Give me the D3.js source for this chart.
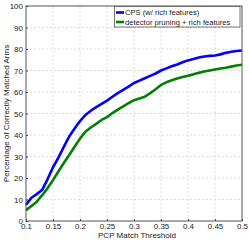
<!DOCTYPE html>
<html><head><meta charset="utf-8">
<script src="https://cdn.jsdelivr.net/npm/d3@7"></script>
<style>body{margin:0;background:#fff}svg{display:block}text{font-family:"Liberation Sans",Arial,sans-serif;fill:#222}</style>
</head><body>
<script>
const thresholds = d3.range(41).map(i => +(0.1 + i*0.01).toFixed(2));
const cpsValues = [7.5,10.8,12.5,14.5,19.5,25,29.5,34.5,39.3,43,46.5,49.3,51.3,53,54.5,56,57.8,59.5,61,62.5,64.2,65.3,66.4,67.5,68.6,70,71,72,72.8,73.8,74.7,75.3,76,76.5,76.8,77,77.5,78.2,78.7,79.1,79.3];
const pruneValues = [5,7,9,12,15.3,19,23,27,30.7,34.5,38.3,41.5,43.5,45.2,47,48.3,50.2,51.8,53.3,54.8,56.2,57,57.8,59.5,61.3,63.3,64.5,65.5,66.3,67,67.6,68.2,68.9,69.5,70,70.5,70.9,71.3,71.8,72.3,72.7];
const seriesNames = ["CPS (w/ rich features)", "detector pruning + rich features"];
const seriesColors = ["#0000ff", "#008000"];
const xTicks = [0.1,0.15,0.2,0.25,0.3,0.35,0.4,0.45,0.5];
const yTicks = [0,10,20,30,40,50,60,70,80,90,100];

const W = 249, H = 241;
const m = {l:26, r:7, t:6, b:20};
const svg = d3.select("body").append("svg").attr("width", W).attr("height", H);
const x = d3.scaleLinear().domain([0.1,0.5]).range([m.l, W-m.r]);
const y = d3.scaleLinear().domain([0,100]).range([H-m.b, m.t]);

// grid
const g = svg.append("g").attr("stroke","#ccc").attr("stroke-width",0.7).attr("stroke-dasharray","2,2");
xTicks.slice(1,-1).forEach(t => g.append("line").attr("x1",x(t)).attr("x2",x(t)).attr("y1",y(0)).attr("y2",y(100)));
yTicks.slice(1,-1).forEach(t => g.append("line").attr("x1",x(0.1)).attr("x2",x(0.5)).attr("y1",y(t)).attr("y2",y(t)));

// series
const line = d3.line().x((d,i)=>x(thresholds[i])).y(d=>y(d));
[cpsValues, pruneValues].forEach((vals,k) => {
  svg.append("path").datum(vals).attr("d", line).attr("fill","none")
    .attr("stroke", seriesColors[k]).attr("stroke-width",2.6).attr("stroke-linejoin","round");
});

// axes
const fmt = d => String(d);
svg.append("g").attr("transform",`translate(0,${y(0)})`)
  .call(d3.axisBottom(x).tickValues(xTicks).tickFormat(fmt).tickSizeInner(-2).tickSizeOuter(0).tickPadding(2))
  .call(s => { s.select(".domain").remove(); s.selectAll("line").attr("stroke","#444");
    s.selectAll("text").attr("font-size",8).attr("fill","#222").attr("font-family","Liberation Sans, Arial, sans-serif"); });
svg.append("g").attr("transform",`translate(${x(0.1)},0)`)
  .call(d3.axisLeft(y).tickValues(yTicks).tickFormat(fmt).tickSizeInner(-2).tickSizeOuter(0).tickPadding(3))
  .call(s => { s.select(".domain").remove(); s.selectAll("line").attr("stroke","#444");
    s.selectAll("text").attr("font-size",8).attr("fill","#222").attr("font-family","Liberation Sans, Arial, sans-serif"); });

// box
svg.append("rect").attr("x",x(0.1)).attr("y",y(100)).attr("width",x(0.5)-x(0.1)).attr("height",y(0)-y(100))
  .attr("fill","none").attr("stroke","#555").attr("stroke-width",1);

// labels
svg.append("text").attr("x",(x(0.1)+x(0.5))/2+3).attr("y",238).attr("text-anchor","middle").attr("font-size",8).text("PCP Match Threshold");
svg.append("text").attr("transform",`translate(8.7,${(y(0)+y(100))/2}) rotate(-90)`).attr("text-anchor","middle").attr("font-size",8).text("Percentage of Correctly Matched Arms");

// legend
const lg = svg.append("g");
lg.append("rect").attr("x",114.5).attr("y",6.5).attr("width",125.5).attr("height",20.5).attr("fill","#fff").attr("stroke","#555").attr("stroke-width",0.8);
seriesNames.forEach((n,k) => {
  const yy = 12.5 + k*9.5;
  lg.append("line").attr("x1",116).attr("x2",124).attr("y1",yy).attr("y2",yy).attr("stroke",seriesColors[k]).attr("stroke-width",2.6);
  lg.append("text").attr("x",125).attr("y",yy+2.8).attr("font-size",7.6).text(n);
});
</script>
</body></html>
